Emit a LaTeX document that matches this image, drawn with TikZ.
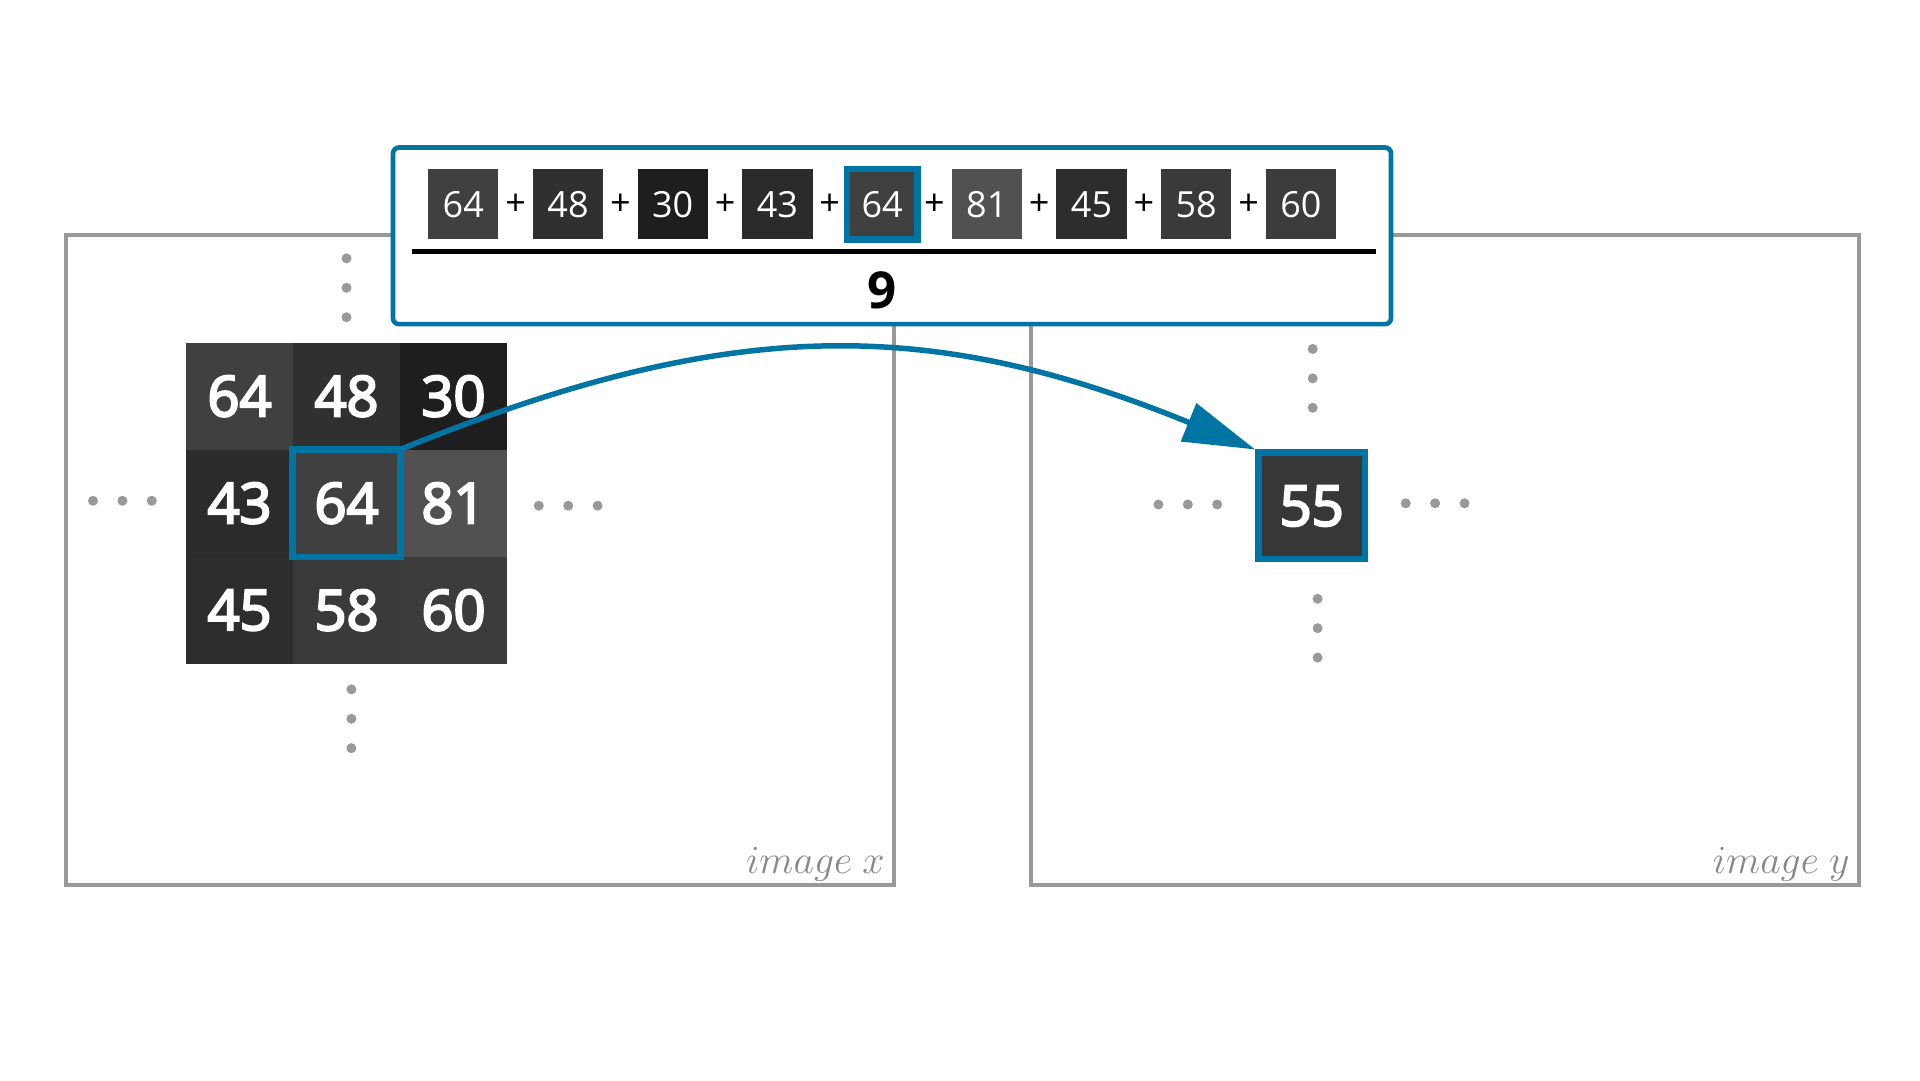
\documentclass[tikz,border=0pt]{standalone}
\usepackage{fontspec}
\setmainfont{Open Sans}
\newfontfamily\semifamily{Open Sans}[FakeBold=4]
\usepackage{tikz}
\usetikzlibrary{arrows.meta,positioning}

\definecolor{imgblue}{RGB}{0,116,162}
\definecolor{imggray}{RGB}{153,153,153}
\definecolor{labelgray}{RGB}{136,136,136}
\definecolor{v30}{RGB}{30,30,30}
\definecolor{v43}{RGB}{43,43,43}
\definecolor{v45}{RGB}{45,45,45}
\definecolor{v48}{RGB}{48,48,48}
\definecolor{v55}{RGB}{55,55,55}
\definecolor{v58}{RGB}{58,58,58}
\definecolor{v60}{RGB}{60,60,60}
\definecolor{v64}{RGB}{64,64,64}
\definecolor{v81}{RGB}{81,81,81}

\newcommand{\cellfont}{\fontsize{56}{60}\selectfont\semifamily}
\newcommand{\termfont}{\fontsize{36}{40}\selectfont}
\newcommand{\denomfont}{\fontsize{51}{56}\selectfont\bfseries}

\begin{document}
\begin{tikzpicture}[x=1pt,y=1pt,node distance=107pt,>={Triangle[length=72pt,width=40pt]}]
	\tikzstyle{frame}=[draw=imggray, line width=4pt]
	\tikzstyle{cell}=[rectangle, inner sep=0pt, minimum size=107pt, text=white, font=\cellfont]
	\tikzstyle{term}=[rectangle, inner sep=0pt, minimum size=70.3pt, text=white, font=\termfont]
	\tikzstyle{plus}=[inner sep=0pt, font=\termfont]
	\tikzstyle{hilite}=[draw=imgblue, line width=6.7pt]
	\tikzstyle{dotfill}=[fill=imggray]
	\tikzstyle{imglabel}=[anchor=base east, inner sep=0pt, text=labelgray, font=\Huge, scale=1.6, transform shape]

	\useasboundingbox (0,0) rectangle (1920,1080);

	% images x and y
	\draw[frame] (66,195) rectangle (894,845);
	\draw[frame] (1031,195) rectangle (1859,845);
	\node[imglabel] (lx) at (885,207) {$image\ x$};
	\node[imglabel] (ly) at (1850,207) {$image\ y$};

	% 3x3 neighbourhood
	\node[cell, fill=v64] (c11) at (239.5,683.8) {64};
	\node[cell, fill=v48, right of=c11] (c12) {48};
	\node[cell, fill=v30, right of=c12] (c13) {30};
	\node[cell, fill=v43, below of=c11] (c21) {43};
	\node[cell, fill=v64, right of=c21] (c22) {64};
	\node[cell, fill=v81, right of=c22] (c23) {81};
	\node[cell, fill=v45, below of=c21] (c31) {45};
	\node[cell, fill=v58, right of=c31] (c32) {58};
	\node[cell, fill=v60, right of=c32] (c33) {60};
	\draw[hilite] (c22.south west) rectangle (c22.north east);

	\foreach \y in {821.6,792.2,762.8} \fill[dotfill] (346.5,\y) circle (5);
	\foreach \y in {390.6,361.2,331.8} \fill[dotfill] (351.4,\y) circle (5);
	\foreach \x in {93,122.4,151.8} \fill[dotfill] (\x,579.2) circle (5);
	\foreach \x in {538.8,568.2,597.6} \fill[dotfill] (\x,574.3) circle (5);

	% output pixel
	\node[cell, fill=v55, hilite, minimum size=106.3pt] (out) at (1311.7,574) {55};

	\foreach \y in {731,701.6,672.2} \fill[dotfill] (1312.7,\y) circle (5);
	\foreach \y in {481.2,451.8,422.4} \fill[dotfill] (1317.6,\y) circle (5);
	\foreach \x in {1158.4,1187.8,1217.2} \fill[dotfill] (\x,575.5) circle (5);
	\foreach \x in {1405.7,1435.1,1464.5} \fill[dotfill] (\x,576.7) circle (5);

	% mean formula
	\node[draw=imgblue, line width=4.6pt, fill=white, rounded corners=6pt, minimum width=998pt, minimum height=176.7pt] (formula) at (892,844.15) {};
	\begin{scope}[node distance=52.35pt]
		\node[term, fill=v64] (t1) at (463.3,875.7) {64};
		\node[plus, right of=t1] (p1) {+};
		\node[term, fill=v48, right of=p1] (t2) {48};
		\node[plus, right of=t2] (p2) {+};
		\node[term, fill=v30, right of=p2] (t3) {30};
		\node[plus, right of=t3] (p3) {+};
		\node[term, fill=v43, right of=p3] (t4) {43};
		\node[plus, right of=t4] (p4) {+};
		\node[term, fill=v64, hilite, right of=p4] (t5) {64};
		\node[plus, right of=t5] (p5) {+};
		\node[term, fill=v81, right of=p5] (t6) {81};
		\node[plus, right of=t6] (p6) {+};
		\node[term, fill=v45, right of=p6] (t7) {45};
		\node[plus, right of=t7] (p7) {+};
		\node[term, fill=v58, right of=p7] (t8) {58};
		\node[plus, right of=t8] (p8) {+};
		\node[term, fill=v60, right of=p8] (t9) {60};
	\end{scope}
	\draw[line width=5pt] (411.7,828.2) -- (1376,828.2);
	\node[font=\denomfont] (den) at (882,790) {9};

	\draw[->, imgblue, line width=5.5pt] (c22.north east) .. controls (729,764) and (928,764) .. (out.north west);
\end{tikzpicture}
\end{document}
